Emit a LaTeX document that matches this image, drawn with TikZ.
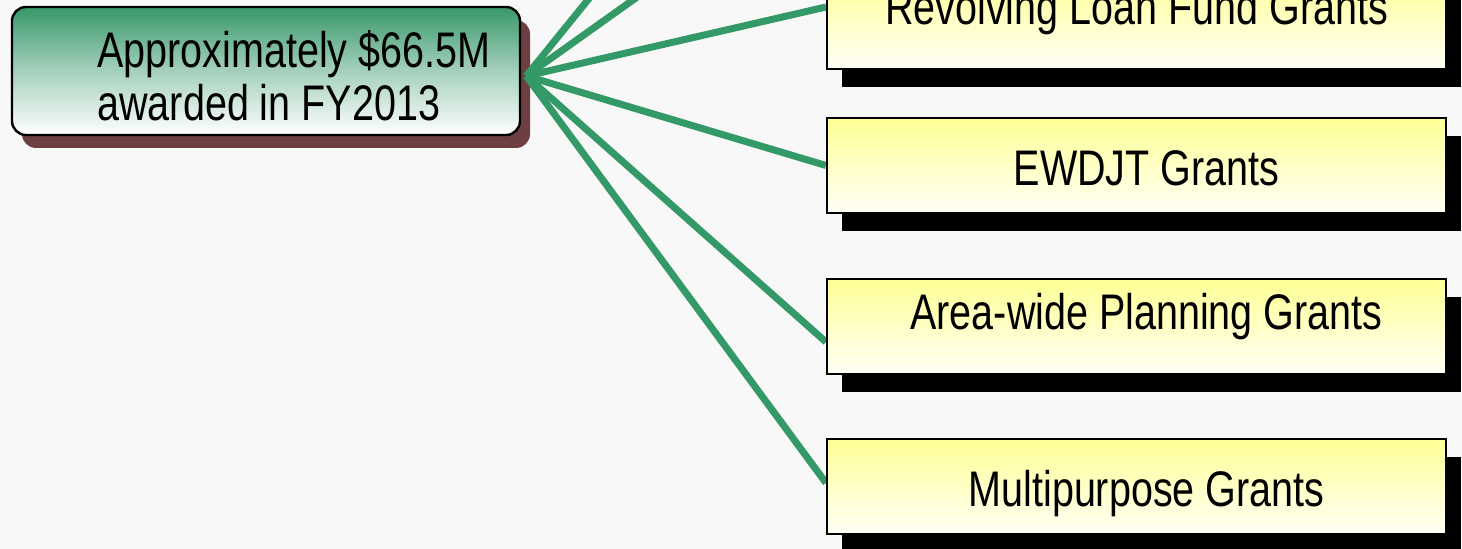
\documentclass[tikz,border=0pt]{standalone}
\usepackage{fontspec}
\setmainfont{Liberation Sans}[FakeStretch=0.79]
\usetikzlibrary{shadows,calc}
\definecolor{bgc}{RGB}{248,248,248}
\definecolor{linkg}{RGB}{51,153,102}
\definecolor{gtop}{RGB}{56,152,106}
\definecolor{ytop}{RGB}{255,255,150}
\definecolor{ybot}{RGB}{255,255,246}
\definecolor{brownsh}{RGB}{110,63,64}
\pgfdeclarelayer{bg}
\pgfdeclarelayer{links}
\pgfsetlayers{bg,links,main}
\tikzset{
  lbl/.style={font=\fontsize{25pt}{27pt}\selectfont, text=black},
  greenbox/.style={lbl, draw=black, line width=1.2pt, rounded corners=7pt,
    minimum width=254pt, minimum height=64pt, inner sep=0pt, align=left,
    top color=gtop, bottom color=white, middle color=gtop!45!white,
    drop shadow={shadow xshift=5pt, shadow yshift=-6.5pt, fill=brownsh, opacity=1}},
  grantbox/.style={lbl, draw=black, line width=1pt,
    minimum width=309.5pt, minimum height=47.5pt, inner sep=0pt,
    top color=ytop, bottom color=ybot, text height=20pt, text depth=0pt,
    drop shadow={shadow xshift=7.5pt, shadow yshift=-9pt, fill=black, opacity=1}},
  shifted/.style={execute at begin node={\hspace*{10pt}}},
  topline/.style={text depth=16.5pt},
  link/.style={draw=linkg, line width=3.5pt},
}
\begin{document}
\begin{tikzpicture}[x=0.5pt,y=-0.5pt]
\useasboundingbox (0,0) rectangle (1462,549);
\begin{pgfonlayer}{bg}
  \fill[bgc] (0,0) rectangle (1462,549);
  \node[greenbox] (award) at (266,71)
    {\rule{0pt}{23.25pt}\hspace*{28pt}Approximately \$66.5M\\\hspace*{28pt}awarded in FY2013};
\end{pgfonlayer}
\clip (0,0) rectangle (1462,549);
\node[grantbox, topline] (rlf) at (1136.5,21.5) {Revolving Loan Fund Grants};
\node[grantbox, shifted] (ewdjt) at (1136.5,165.5) {EWDJT Grants};
\node[grantbox, topline, shifted] (awp) at (1136.5,326.5) {Area-wide Planning Grants};
\node[grantbox, shifted] (mp) at (1136.5,486.5) {Multipurpose Grants};
\coordinate (hub) at ([shift={(2.5pt,-2.5pt)}]award.east);
\coordinate (up1) at (750,-200);
\coordinate (up2) at (914,-200);
\begin{pgfonlayer}{links}
  \begin{scope}
    \clip (0,0) rectangle (1462,549);
    \draw[link] (hub) -- (up1);
    \draw[link] (hub) -- (up2);
    \draw[link] (hub) -- ([yshift=7.25pt]rlf.west);
    \draw[link] (hub) -- (ewdjt.west);
    \draw[link] (hub) -- ([yshift=-7.75pt]awp.west);
    \draw[link] (hub) -- ([yshift=1.75pt]mp.west);
  \end{scope}
\end{pgfonlayer}
\end{tikzpicture}
\end{document}
